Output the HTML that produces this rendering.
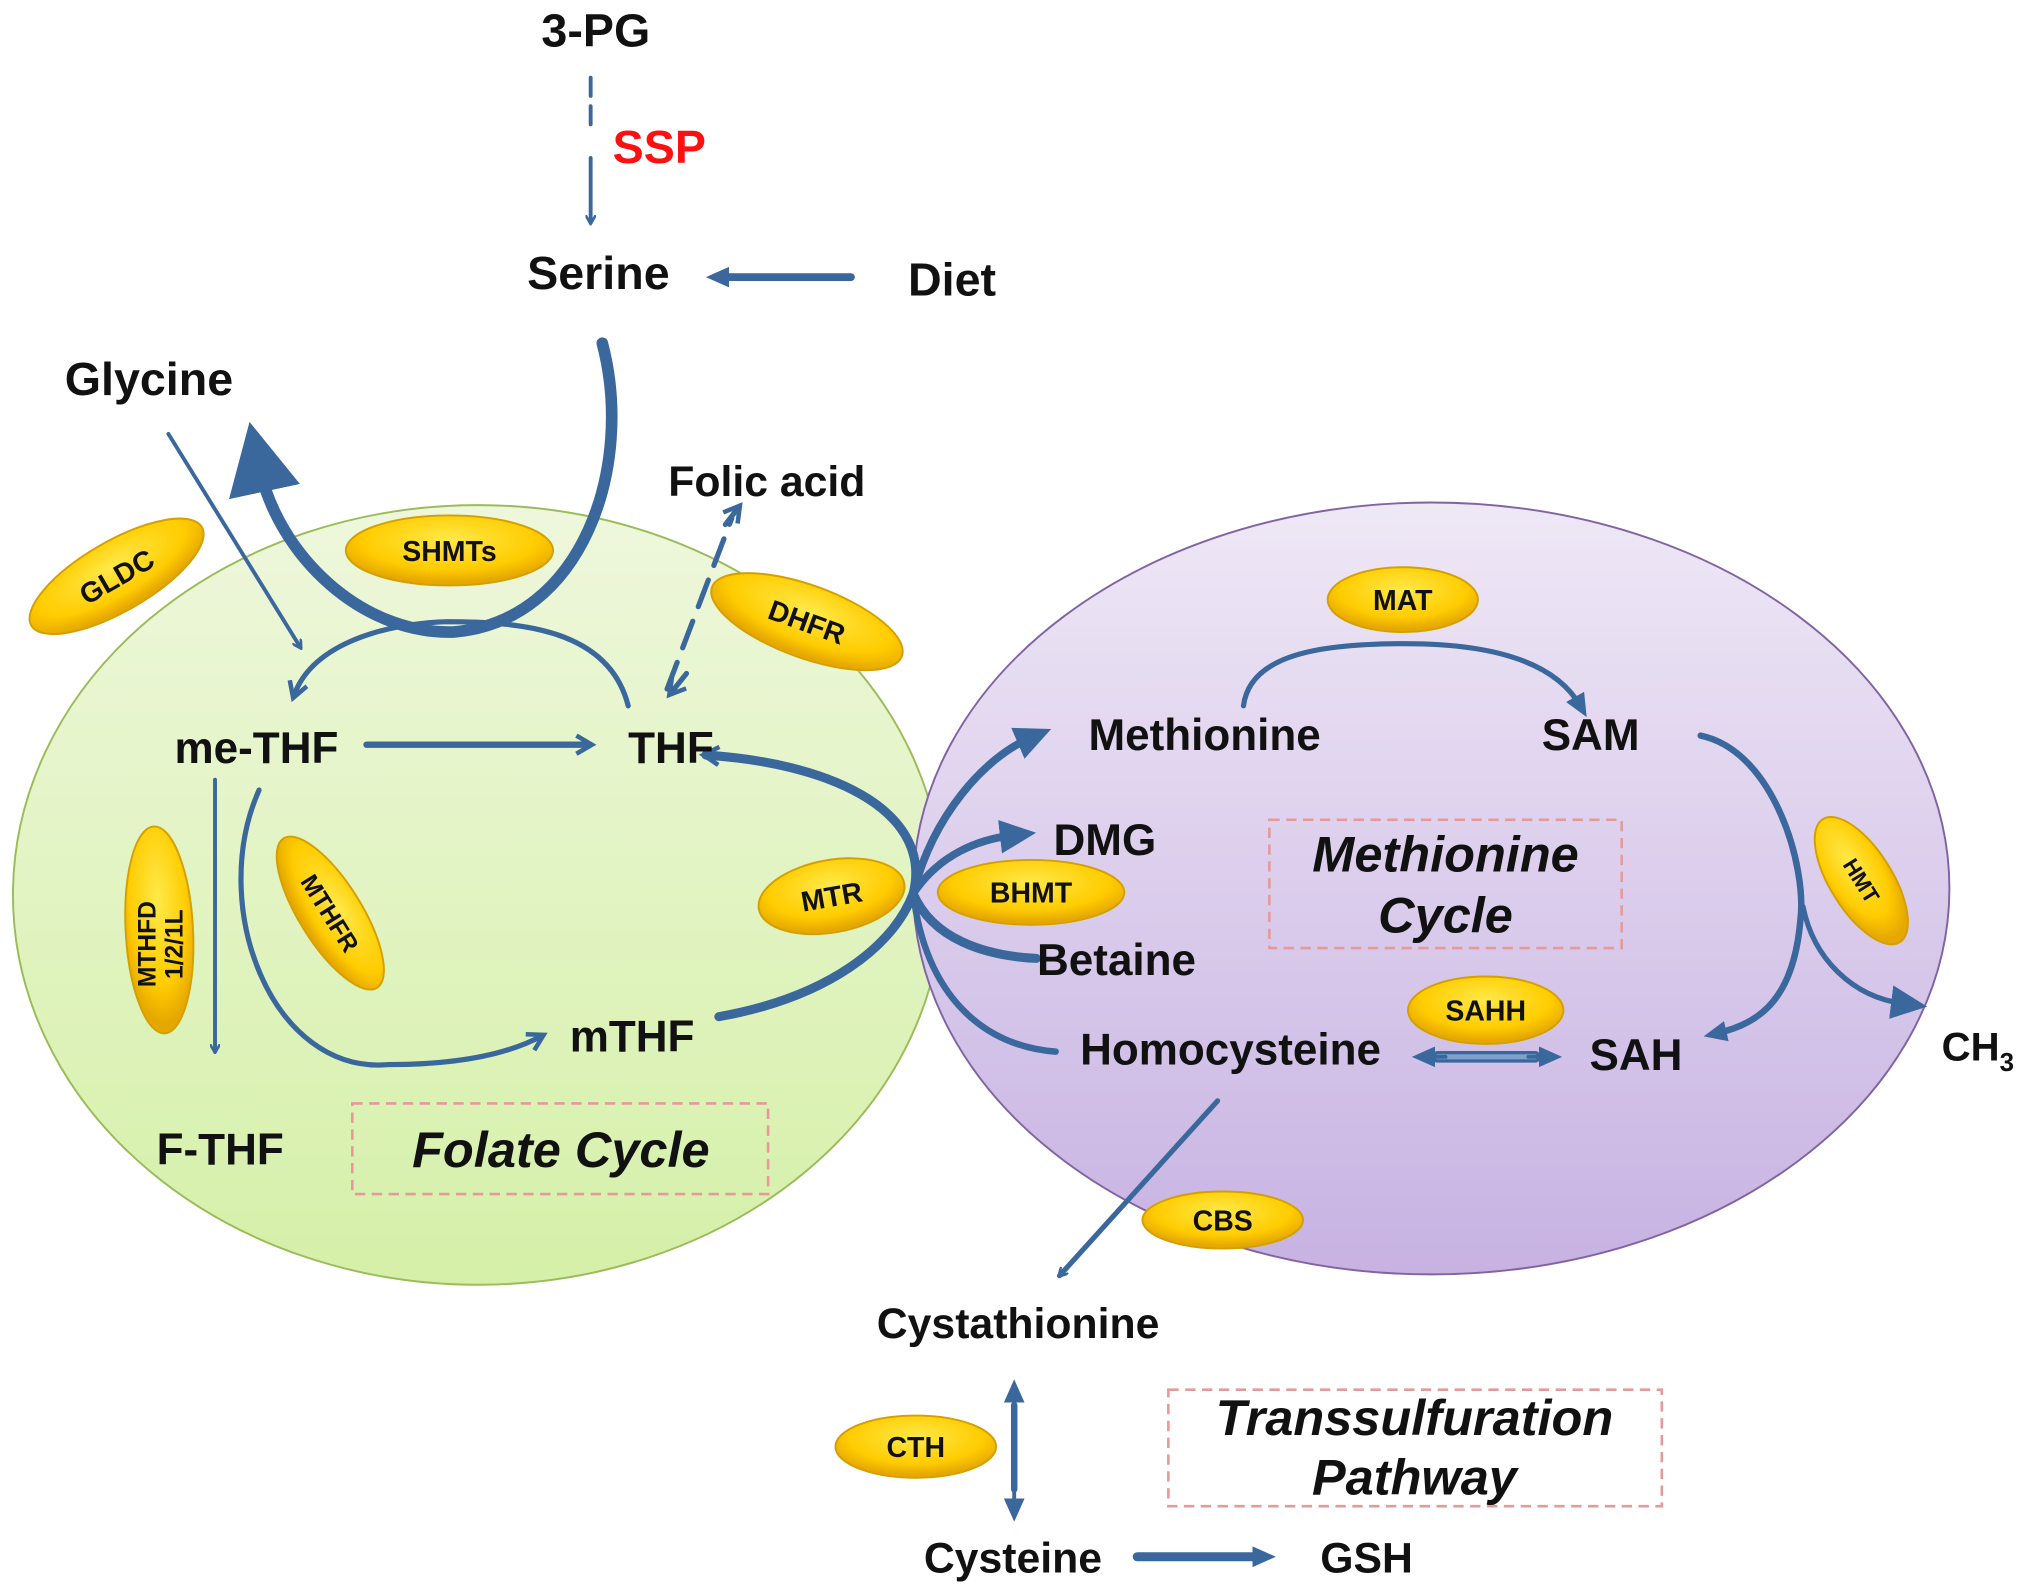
<!DOCTYPE html>
<html><head><meta charset="utf-8"><style>
html,body{margin:0;padding:0;background:#fff;}
svg{display:block;}
text{font-family:"Liberation Sans",sans-serif;font-weight:bold;fill:#111;}
</style></head><body>
<svg width="2031" height="1593" viewBox="0 0 1568 1230" preserveAspectRatio="none" xmlns="http://www.w3.org/2000/svg">
<defs>
<linearGradient id="gg" x1="0" y1="0" x2="0" y2="1"><stop offset="0" stop-color="#eef7dc"/><stop offset="1" stop-color="#d5f0a8"/></linearGradient>
<linearGradient id="pg" x1="0" y1="0" x2="0" y2="1"><stop offset="0" stop-color="#efe8f6"/><stop offset="1" stop-color="#c7b2e2"/></linearGradient>
<radialGradient id="yg" cx="0.5" cy="0.35" r="0.6"><stop offset="0" stop-color="#ffe94a"/><stop offset="0.7" stop-color="#ffcc00"/><stop offset="1" stop-color="#e6a800"/></radialGradient>
<marker id="a" markerWidth="8" markerHeight="8" refX="6" refY="4" orient="auto" markerUnits="userSpaceOnUse" viewBox="0 0 8 8"><path d="M0,0 L7,4 L0,8" fill="none" stroke="#3a679c" stroke-width="2"/></marker>
<marker id="ao" markerWidth="18" markerHeight="18" refX="12" refY="9" orient="auto" markerUnits="userSpaceOnUse"><path d="M2,2 L14,9 L2,16" fill="none" stroke="#3a679c" stroke-width="3.5"/></marker>
<marker id="t" markerWidth="30" markerHeight="30" refX="10" refY="15" orient="auto" markerUnits="userSpaceOnUse"><path d="M0,2 L28,15 L0,28 Z" fill="#3a679c"/></marker>
<marker id="tb" markerWidth="60" markerHeight="60" refX="20" refY="30" orient="auto" markerUnits="userSpaceOnUse"><path d="M0,2 L55,30 L0,58 Z" fill="#3a679c"/></marker>
<marker id="ts" markerWidth="20" markerHeight="20" refX="8" refY="10" orient="auto" markerUnits="userSpaceOnUse"><path d="M0,2 L18,10 L0,18 Z" fill="#3a679c"/></marker>
</defs>
<ellipse cx="369" cy="691" rx="359" ry="301" fill="url(#gg)" stroke="#9bbb59" stroke-width="1.5"/>
<ellipse cx="1105" cy="686" rx="400" ry="298" fill="url(#pg)" stroke="#8064a2" stroke-width="1.5"/>

<g stroke="#3a679c" fill="none" stroke-linecap="round">
<path d="M456 60 V100" stroke-width="3" stroke-dasharray="14,8"/>
<path d="M456 122 V172" stroke-width="3" marker-end="url(#a)"/>
<path d="M657 214 H555" stroke-width="6" marker-end="url(#ts)"/>
<path d="M465 265 C490 360 450 480 350 488 C280 490 215 430 200 360" stroke-width="9" marker-end="url(#tb)"/>
<path d="M130 335 L232 500" stroke-width="3" marker-end="url(#a)"/>
<path d="M485 545 C470 485 400 480 345 480 C290 482 240 500 227 537" stroke-width="4" marker-end="url(#ao)"/>
<path d="M515 532 L565 400" stroke-width="4" stroke-dasharray="22,12"/>
<path d="M560 405 L570 392" stroke-width="4" marker-end="url(#ao)"/>
<path d="M530 520 L518 535" stroke-width="4" marker-end="url(#ao)"/>
<path d="M283 575 H455" stroke-width="5" marker-end="url(#ao)"/>
<path d="M166 602 V812" stroke-width="3" marker-end="url(#a)"/>
<path d="M200 610 C160 700 210 830 300 822 C350 822 390 815 418 800" stroke-width="4" marker-end="url(#ao)"/>
<path d="M555 785 C640 770 690 730 705 690 C720 630 650 590 545 583" stroke-width="7" marker-end="url(#ao)"/>
<path d="M705 690 C720 630 760 585 795 570" stroke-width="6" marker-end="url(#t)"/>
<path d="M705 690 C725 660 755 648 782 645" stroke-width="6" marker-end="url(#t)"/>
<path d="M705 690 C720 725 760 738 800 740" stroke-width="7"/>
<path d="M705 690 C715 770 760 808 815 812" stroke-width="5"/>
<path d="M960 545 C965 505 1020 497 1085 497 C1150 497 1200 510 1220 545" stroke-width="4" marker-end="url(#ts)"/>
<path d="M1313 568 C1370 580 1395 670 1390 710 C1385 770 1360 790 1325 798" stroke-width="5" marker-end="url(#ts)"/>
<path d="M1392 700 C1400 740 1430 770 1470 775" stroke-width="4" marker-end="url(#t)"/>
<path d="M940 850 L818 985" stroke-width="4" marker-end="url(#a)"/>
<path d="M1110 816 H1185" stroke-width="9"/><path d="M1110 816 H1185" stroke-width="4" stroke="#7ea2cc"/>
<path d="M1116 816 L1100 816" stroke-width="3" marker-end="url(#ts)"/>
<path d="M1180 816 L1196 816" stroke-width="3" marker-end="url(#ts)"/>
<path d="M783 1085 V1150" stroke-width="5"/>
<path d="M783 1090 V1075" stroke-width="3" marker-end="url(#ts)"/>
<path d="M783 1150 V1165" stroke-width="3" marker-end="url(#ts)"/>
<path d="M878 1202 H975" stroke-width="7" marker-end="url(#ts)"/>
</g>

<g stroke="#d4a000" stroke-width="1.5" fill="url(#yg)">
<ellipse cx="90" cy="445" rx="76" ry="27" transform="rotate(-30 90 445)"/>
<ellipse cx="347" cy="425" rx="80" ry="27"/>
<ellipse cx="623" cy="480" rx="78" ry="28" transform="rotate(20 623 480)"/>
<ellipse cx="1083" cy="463" rx="58" ry="25"/>
<ellipse cx="123" cy="718" rx="26" ry="80" transform="rotate(-3 123 718)"/>
<ellipse cx="255" cy="705" rx="68" ry="24" transform="rotate(58 255 705)"/>
<ellipse cx="642" cy="692" rx="57" ry="28" transform="rotate(-10 642 692)"/>
<ellipse cx="796" cy="689" rx="72" ry="25"/>
<ellipse cx="1437" cy="680" rx="24" ry="56" transform="rotate(-32 1437 680)"/>
<ellipse cx="1147" cy="780" rx="60" ry="26"/>
<ellipse cx="944" cy="942" rx="62" ry="22"/>
<ellipse cx="707" cy="1117" rx="62" ry="24"/>
</g>
<g font-size="22" text-anchor="middle">
<text x="90" y="453" transform="rotate(-30 90 445)">GLDC</text>
<text x="347" y="433">SHMTs</text>
<text x="623" y="488" transform="rotate(20 623 480)">DHFR</text>
<text x="1083" y="471">MAT</text>
<text font-size="19" transform="rotate(-90 123 718)"><tspan x="112" y="715">MTHFD</tspan><tspan x="112" y="736">1/2/1L</tspan></text>
<text x="255" y="712" font-size="19" transform="rotate(58 255 705)">MTHFR</text>
<text x="642" y="700" transform="rotate(-10 642 692)">MTR</text>
<text x="796" y="697">BHMT</text>
<text x="1437" y="686" font-size="17" transform="rotate(58 1437 680)">HMT</text>
<text x="1147" y="788">SAHH</text>
<text x="944" y="950">CBS</text>
<text x="707" y="1125">CTH</text>
</g>

<g font-size="36" text-anchor="middle">
<text x="460" y="36">3-PG</text>
<text x="509" y="126" style="fill:#ff1010">SSP</text>
<text x="462" y="223">Serine</text>
<text x="735" y="228">Diet</text>
<text x="115" y="305">Glycine</text>
<text x="592" y="383" font-size="33">Folic acid</text>
<text x="198" y="589" font-size="34">me-THF</text>
<text x="518" y="589" font-size="34">THF</text>
<text x="488" y="812" font-size="34">mTHF</text>
<text x="170" y="899" font-size="34">F-THF</text>
<text x="930" y="579" font-size="34">Methionine</text>
<text x="1228" y="579" font-size="34">SAM</text>
<text x="853" y="660" font-size="34">DMG</text>
<text x="862" y="753" font-size="34">Betaine</text>
<text x="950" y="822" font-size="34">Homocysteine</text>
<text x="1263" y="826" font-size="34">SAH</text>
<text x="1527" y="819" font-size="31">CH<tspan font-size="20" dy="8">3</tspan></text>
<text x="786" y="1033" font-size="33">Cystathionine</text>
<text x="782" y="1214" font-size="33">Cysteine</text>
<text x="1055" y="1214" font-size="33">GSH</text>
</g>

<g fill="none" stroke="#e59a9a" stroke-width="2" stroke-dasharray="8,5">
<rect x="272" y="852" width="321" height="70"/>
<rect x="980" y="633" width="272" height="99"/>
<rect x="902" y="1073" width="381" height="90"/>
</g>
<g font-size="39" font-style="italic" text-anchor="middle">
<text x="433" y="901">Folate Cycle</text>
<text x="1116" y="673">Methionine</text>
<text x="1116" y="720">Cycle</text>
<text x="1092" y="1108">Transsulfuration</text>
<text x="1092" y="1154">Pathway</text>
</g>
</svg>
</body></html>
